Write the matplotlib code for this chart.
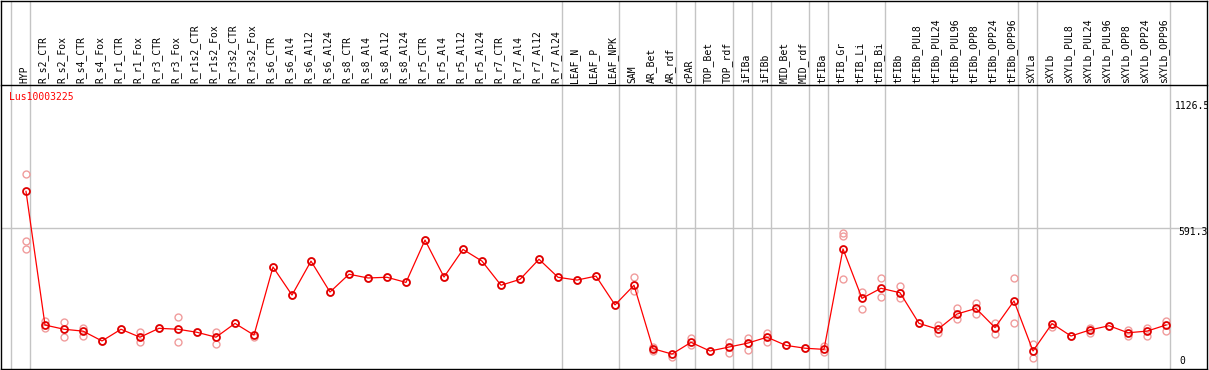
import matplotlib
matplotlib.use("Agg")
import matplotlib.pyplot as plt

# Data
columns = ["HYP", "R_s2_CTR", "R_s2_Fox", "R_s4_CTR", "R_s4_Fox", "R_r1_CTR", "R_r1_Fox",
           "R_r3_CTR", "R_r3_Fox", "R_r1s2_CTR", "R_r1s2_Fox", "R_r3s2_CTR", "R_r3s2_Fox",
           "R_s6_CTR", "R_s6_Al4", "R_s6_Al12", "R_s6_Al24", "R_s8_CTR", "R_s8_Al4",
           "R_s8_Al12", "R_s8_Al24", "R_r5_CTR", "R_r5_Al4", "R_r5_Al12", "R_r5_Al24",
           "R_r7_CTR", "R_r7_Al4", "R_r7_Al12", "R_r7_Al24", "LEAF_N", "LEAF_P", "LEAF_NPK",
           "SAM", "AR_Bet", "AR_rdf", "cPAR", "TOP_Bet", "TOP_rdf", "iFIBa", "iFIBb",
           "MID_Bet", "MID_rdf", "tFIBa", "tFIB_Gr", "tFIB_Li", "tFIB_Bi", "tFIBb",
           "tFIBb_PUL8", "tFIBb_PUL24", "tFIBb_PUL96", "tFIBb_OPP8", "tFIBb_OPP24",
           "tFIBb_OPP96", "sXYLa", "sXYLb", "sXYLb_PUL8", "sXYLb_PUL24", "sXYLb_PUL96",
           "sXYLb_OPP8", "sXYLb_OPP24", "sXYLb_OPP96"]

means = [749, 178, 160, 152, 110, 160, 126, 164, 160, 147, 126, 185, 135,
         426, 306, 451, 319, 395, 379, 382, 360, 541, 383, 501, 451,
         348, 373, 459, 382, 370, 387, 264,
         348, 77, 54, 104, 67, 84, 101, 126, 91, 79, 74,
         503, 292, 335, 316, 185, 160, 225, 249, 167, 281,
         67, 184, 131, 157, 175, 145, 152, 178]

replicates = [[822, 537, 501], [196, 164], [190, 126], [167, 132], [110], [160], [150, 104],
              [164], [211, 104], [147], [150, 96], [185], [128],
              [426], [306], [451], [319], [395], [379], [382], [360], [541], [383], [501], [451],
              [348], [373], [459], [382], [370], [387], [264],
              [382, 325], [66, 85], [43], [121, 93], [67], [107, 57], [124, 71], [145, 104],
              [91], [79], [88, 64],
              [572, 558, 373], [318, 245], [378, 299], [345, 295], [185], [178, 145], [249, 202],
              [271, 224], [188, 138], [378, 185],
              [97, 36], [171], [131], [167, 145], [175], [157, 131], [167, 132], [196, 152]]

# column index where each group starts (separator lines)
group_starts = [0, 1, 29, 32, 35, 36, 38, 39, 40, 42, 43, 46, 53, 54, 61]

gene = "Lus10003225"
hline_value = 591.3
right_labels = ["1126.5", "591.3", "0"]

W, H = 1209, 370
fig = plt.figure(figsize=(W / 100, H / 100), dpi=100)

x_lo, x_hi = (1 - 26) / 19, (1207 - 26) / 19
px = 1.0 / 19  # one pixel in index units

ax = fig.add_axes([1 / W, 1 / H, 1206 / W, 283 / H])
hd = fig.add_axes([1 / W, 285 / H, 1206 / W, 84.5 / H])

for a in (ax, hd):
    a.set_xlim(x_lo, x_hi)
    a.set_xticks([])
    a.set_yticks([])
    for s in a.spines.values():
        s.set_color("black")
        s.set_linewidth(1.0)
    for g in group_starts:
        a.axvline(g - 15 * px, color="#c4c4c4", lw=1.0, zorder=0)

ax.spines["top"].set_visible(False)
ax.set_ylim(-9.8, 1199)
ax.axhline(hline_value, color="#c4c4c4", lw=1.0, zorder=0)

idx = list(range(len(columns)))
for i, reps in enumerate(replicates):
    ax.plot([i] * len(reps), reps, "o", ms=5, mfc="none", mec="#f09c9c", mew=1.0, zorder=2)
ax.plot(idx, means, "-", color="red", lw=0.9, zorder=3)
ax.plot(idx, means, "o", ms=5, mfc="none", mec="#e00000", mew=1.3, zorder=4)

mono = "DejaVu Sans Mono"
ax.text(x_lo + 8 * px, 1199 - (97 - 86) / 0.2341, gene, color="red", fontsize=7,
        family=mono, ha="left", va="center")

label_x = [1175, 1178, 1179]
label_y = [106, 232, 361]
for t, lx, ly in zip(right_labels, label_x, label_y):
    ax.text((lx - 26) / 19, (366.7 - ly) / 0.2341, t, fontsize=7, family=mono,
            ha="left", va="center", clip_on=True)

hd.set_ylim(85, 0)
for i, name in enumerate(columns):
    hd.text(i - 2 * px, 83, name, rotation=90, fontsize=7, family=mono,
            ha="center", va="bottom")

fig.savefig("out.png", dpi=100)
